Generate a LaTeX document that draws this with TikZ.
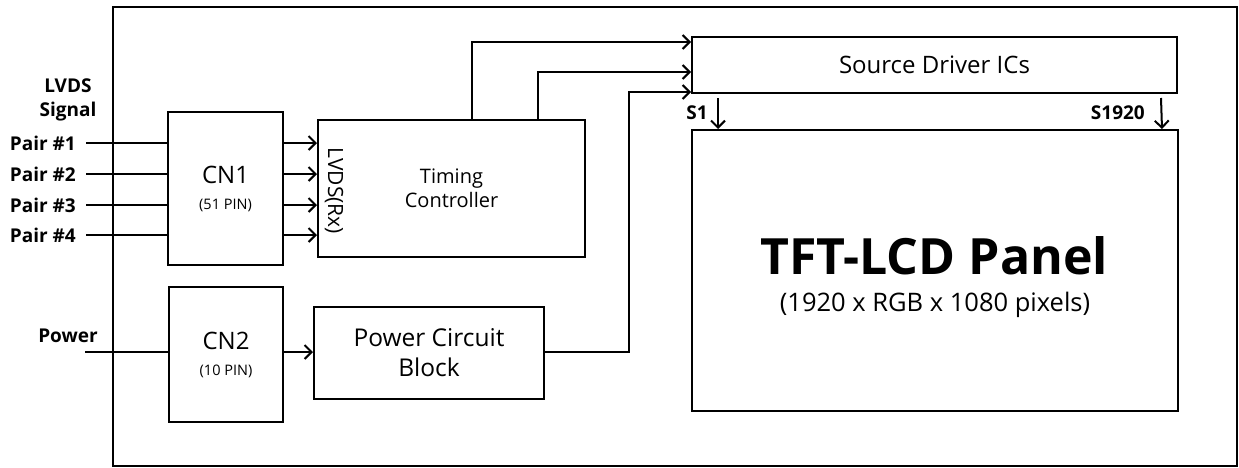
\documentclass[tikz,border=0pt]{standalone}
\usepackage{fontspec}
\setmainfont{Open Sans}
\usetikzlibrary{positioning, arrows.meta, calc}

\tikzset{
  blk/.style={draw, line width=2pt, inner sep=0pt, align=center},
  sig/.style={line width=2pt, -{Straight Barb[length=7pt,width=14pt,line width=2pt]}},
  wire/.style={line width=2pt},
  lbl/.style={font=\fontsize{19}{24}\selectfont\bfseries, inner sep=0pt, align=center},
}

\begin{document}
\begin{tikzpicture}[x=1pt,y=-1pt]
  \useasboundingbox (0,0) rectangle (1239,467);
  \draw[line width=2.5pt] (113,7) rectangle (1237,466);

  % blocks
  \node[blk, minimum width=115pt, minimum height=153pt, font=\fontsize{24}{26}\selectfont] (cn1) at (225.5,188.5)
       {CN1\\{\fontsize{14.5}{17}\selectfont (51 PIN)}};
  \node[blk, minimum width=267pt, minimum height=137pt, font=\fontsize{20}{24}\selectfont] (tc) at (451.5,188.5)
       {Timing\\Controller};
  \node[rotate=-90, inner sep=0pt, font=\fontsize{21}{24}\selectfont] (rx) at (334,191) {LVDS(Rx)};
  \node[blk, minimum width=114pt, minimum height=135pt, font=\fontsize{24}{26}\selectfont] (cn2) at (226,354.5)
       {CN2\\{\fontsize{14.5}{17}\selectfont (10 PIN)}};
  \node[blk, minimum width=230pt, minimum height=92pt, font=\fontsize{24.5}{30}\selectfont] (pcb) at (429,353)
       {Power Circuit\\Block};
  \node[blk, minimum width=485pt, minimum height=56pt, font=\fontsize{24}{28}\selectfont] (sd) at (934.5,65) {Source Driver ICs};
  \node[blk, minimum width=486pt, minimum height=281pt] (tft) at (935,270.5) {};
  \node[inner sep=0pt, font=\fontsize{50}{56}\selectfont\bfseries] (tftname) at (934,256) {TFT-LCD Panel};
  \node[inner sep=0pt, font=\fontsize{25.5}{30}\selectfont] (tftres) at (935,305) {(1920 x RGB x 1080 pixels)};

  % inputs
  \node[lbl] (lvds) at (68,100) {LVDS\\Signal};
  \foreach \y/\n in {143/1,174/2,205/3,235/4}{
    \node[lbl, anchor=east] (pair\n) at (76,\y) {Pair \#\n};
    \coordinate (pin\n) at (86,\y);
    \draw[wire] (pin\n) -- (pin\n -| cn1.west);
    \draw[sig] (pin\n -| cn1.east) -- (pin\n -| tc.west);
  }
  \node[lbl] (pwr) at (68,336) {Power};
  \coordinate (pwrin) at (85,352);
  \draw[wire] (pwrin) -- (pwrin -| cn2.west);
  \draw[sig] (pwrin -| cn2.east) -- (pwrin -| pcb.west);

  % to source driver
  \draw[sig] ($(tc.north west)+(155,0)$) |- ($(sd.north west)+(0,6)$);
  \draw[sig] ($(tc.north west)+(221,0)$) |- ($(sd.north west)+(0,36)$);
  \draw[sig] (pwrin -| pcb.east) -- ++(84,0) |- ($(sd.south west)+(0,-2)$);

  % source lines
  \draw[sig] ($(sd.south west)+(27,4)$) -- ($(tft.north west)+(27,0)$);
  \draw[sig] ($(sd.south east)+(-17,4)$) -- ($(tft.north east)+(-17,0)$);
  \node[lbl, anchor=east] (s1) at (708,113) {S1};
  \node[lbl, anchor=east] (s1920) at (1145,113) {S1920};
\end{tikzpicture}
\end{document}
